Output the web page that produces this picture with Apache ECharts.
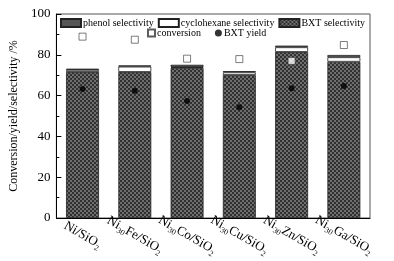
<!DOCTYPE html>
<html>
<head>
<meta charset="utf-8">
<script src="https://cdn.jsdelivr.net/npm/echarts@6/dist/echarts.min.js"></script>
<style>
  html, body { margin: 0; padding: 0; background: #fff; }
  #chart { width: 394px; height: 261px; }
</style>
</head>
<body>
<div id="chart"></div>
<script>
// catalysts (rich text for subscripts)
const catalysts = [
    "Ni/SiO{s|2}",
    "Ni{s|30}Fe/SiO{s|2}",
    "Ni{s|30}Co/SiO{s|2}",
    "Ni{s|30}Cu/SiO{s|2}",
    "Ni{s|30}Zn/SiO{s|2}",
    "Ni{s|30}Ga/SiO{s|2}",
];
const bxtSelectivity = [71.6, 71.6, 73.6, 70.1, 81.4, 76.6];
const cyclohexaneSelectivity = [1.0, 2.6, 0.4, 1.3, 2.3, 2.2];
const phenolSelectivity = [0.6, 0.6, 1.1, 0.6, 0.8, 1.1];
const conversion = [88.9, 87.4, 78.1, 77.9, 77.0, 84.8];
const bxtYield = [63.2, 62.4, 57.4, 54.3, 63.6, 64.7];
const yTicks = [0, 20, 40, 60, 80, 100];

const FONT = "'Liberation Serif', 'Times New Roman', serif";

// checker hatch for BXT bars
function checker() {
    const c = document.createElement("canvas");
    c.width = 4; c.height = 4;
    const ctx = c.getContext("2d");
    ctx.fillStyle = "#6e6e6e";
    ctx.fillRect(0, 0, 4, 4);
    ctx.fillStyle = "#303030";
    ctx.fillRect(0, 0, 2, 2);
    ctx.fillRect(2, 2, 2, 2);
    return c;
}
const hatch = { image: checker(), repeat: "repeat" };

const chart = echarts.init(document.getElementById("chart"));
chart.setOption({
    animation: false,
    textStyle: { fontFamily: FONT, color: "#000" },
    grid: {
        left: 54, right: 24, top: 14, bottom: 43,
        show: true, borderColor: "#555", borderWidth: 1,
    },
    legend: [{
        data: ["phenol selectivity", "cyclohexane selectivity", "BXT selectivity"],
        left: 60, top: 18, padding: 0,
        icon: "rect",
        itemWidth: 20, itemHeight: 8, itemGap: 4,
        textStyle: { fontFamily: FONT, fontSize: 10, color: "#000", padding: [0, 0, 0, -3] },
    }, {
        data: ["conversion", "BXT yield"],
        left: 147, top: 28, padding: 0,
        itemWidth: 7, itemHeight: 7, itemGap: 14,
        textStyle: { fontFamily: FONT, fontSize: 10, color: "#000", padding: [0, 0, 0, -3] },
    }],
    xAxis: {
        type: "category",
        data: catalysts,
        axisLine: { lineStyle: { color: "#000" } },
        axisTick: { show: false },
        axisLabel: {
            rotate: -30,
            align: "center",
            verticalAlign: "middle",
            margin: 17,
            fontFamily: FONT,
            fontSize: 13,
            color: "#000",
            rich: {
                s: { fontFamily: FONT, fontSize: 8, color: "#000", padding: [9, 0, 0, 0] },
            },
        },
    },
    yAxis: {
        type: "value",
        min: yTicks[0], max: yTicks[yTicks.length - 1], interval: 20,
        name: "Conversion/yield/selectivity /%",
        nameLocation: "middle",
        nameGap: 34,
        nameTextStyle: { fontFamily: FONT, fontSize: 12, color: "#000" },
        axisLine: { show: true, lineStyle: { color: "#000" } },
        axisTick: { show: true, inside: true, length: 5, lineStyle: { color: "#000" } },
        minorTick: { show: true, splitNumber: 2, length: 3, lineStyle: { color: "#000" } },
        splitLine: { show: false },
        axisLabel: { fontFamily: FONT, fontSize: 13, color: "#000", margin: 6 },
    },
    series: [{
        name: "BXT selectivity",
        type: "bar",
        stack: "sel",
        barCategoryGap: "37%",
        data: bxtSelectivity,
        itemStyle: { color: hatch, borderColor: "#222", borderWidth: 0.8 },
    }, {
        name: "cyclohexane selectivity",
        type: "bar",
        stack: "sel",
        data: cyclohexaneSelectivity,
        itemStyle: { color: "#fff", borderColor: "#222", borderWidth: 0.8 },
    }, {
        name: "phenol selectivity",
        type: "bar",
        stack: "sel",
        data: phenolSelectivity,
        itemStyle: { color: "#555", borderColor: "#222", borderWidth: 0.8 },
    }, {
        name: "conversion",
        type: "scatter",
        symbol: "rect",
        symbolSize: 7,
        data: conversion,
        itemStyle: { color: "#fff", borderColor: "#333", borderWidth: 0.8 },
        z: 5,
    }, {
        name: "BXT yield",
        type: "scatter",
        symbol: "circle",
        symbolSize: 6,
        data: bxtYield,
        itemStyle: { color: "#000" },
        z: 5,
    }],
});
</script>
</body>
</html>
